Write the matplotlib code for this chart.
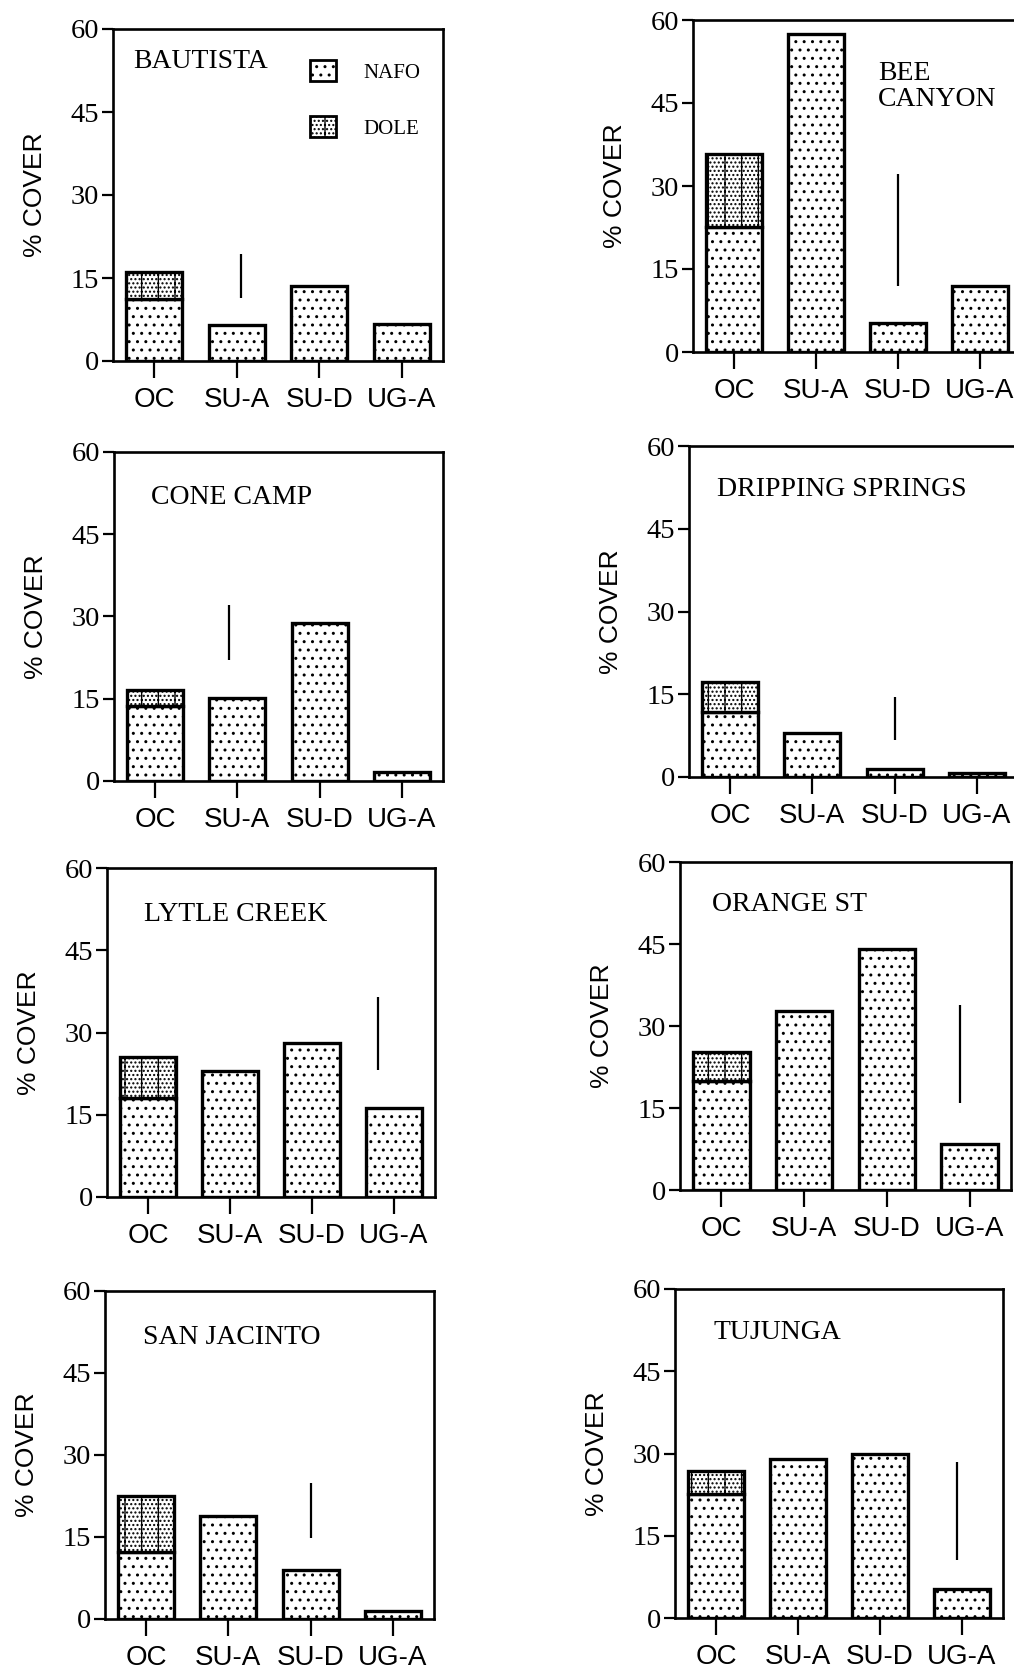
import matplotlib
matplotlib.use("Agg")
import matplotlib.pyplot as plt
from matplotlib.patches import Patch
from matplotlib import font_manager

# figure size in pixels
W, H = 1014, 1672

sites = ["BAUTISTA", "BEE\nCANYON", "CONE CAMP", "DRIPPING SPRINGS",
         "LYTLE CREEK", "ORANGE ST", "SAN JACINTO", "TUJUNGA"]
classes = ["OC", "SU-A", "SU-D", "UG-A"]
yticks = [0, 15, 30, 45, 60]

# NAFO cover for OC, SU-A, SU-D, UG-A at each site
nafo = [
    [11.2, 6.5, 13.6, 6.7],
    [22.6, 57.5, 5.2, 11.9],
    [13.7, 15.1, 28.8, 1.7],
    [11.8, 8.0, 1.4, 0.8],
    [18.0, 23.0, 28.0, 16.3],
    [19.9, 32.8, 44.0, 8.5],
    [12.2, 18.8, 9.0, 1.5],
    [22.6, 29.0, 29.9, 5.3],
]
# DOLE cover, only found in OC (stacked on top of NAFO)
dole_oc = [4.9, 13.2, 2.9, 5.4, 7.5, 5.4, 10.3, 4.2]

# vertical LSD bar in each panel
lsd_x = [1.05, 2.0, 0.9, 2.0, 2.8, 2.88, 2.0, 2.94]
lsd_low = [11.4, 12.0, 22.1, 6.7, 23.2, 15.9, 14.8, 10.6]
lsd_high = [19.3, 32.1, 32.1, 14.5, 36.4, 33.8, 24.9, 28.5]

# panel boxes in pixels: left, top, right, bottom
boxes = [
    (113, 29, 443, 361), (693, 20, 1021, 352),
    (114, 452, 443, 781), (689, 446, 1018, 777),
    (107, 868, 435, 1197), (680, 862, 1011, 1190),
    (105, 1291, 434, 1619), (675, 1289, 1003, 1618),
]
# title offset from top-left corner of panel, pixels
title_off = [(20, 20), (185, 41), (37, 33), (28, 31),
             (37, 34), (32, 30), (38, 34), (38, 31)]

serif = "Liberation Serif"
# narrow sans for tick labels if it is there
names = {f.name for f in font_manager.fontManager.ttflist}
if "Liberation Sans Narrow" in names:
    tick_sans, tick_size = "Liberation Sans Narrow", 23
else:
    tick_sans, tick_size = "Liberation Sans", 20
sans = "Liberation Sans"
plt.rcParams["hatch.linewidth"] = 1.0

nafo_hatch = ".."
dole_hatch = "|...."

fig = plt.figure(figsize=(W / 100, H / 100), dpi=100)

for i, site in enumerate(sites):
    l, t, r, b = boxes[i]
    ax = fig.add_axes([l / W, 1 - b / H, (r - l) / W, (b - t) / H])
    x = list(range(len(classes)))
    ax.bar(x, nafo[i], width=0.68, color="white", edgecolor="black",
           linewidth=2.4, hatch=nafo_hatch)
    ax.bar([0], [dole_oc[i]], bottom=[nafo[i][0]], width=0.68, color="white",
           edgecolor="black", linewidth=2.4, hatch=dole_hatch)
    ax.vlines(lsd_x[i], lsd_low[i], lsd_high[i], color="black", linewidth=1.6)

    ax.set_xlim(-0.5, 3.5)
    ax.set_ylim(0, 60)
    ax.set_xticks(x)
    ax.set_xticklabels(classes, fontfamily=tick_sans, fontsize=tick_size)
    ax.set_yticks(yticks)
    ax.set_yticklabels([str(v) for v in yticks], fontfamily=serif, fontsize=20.5)
    ax.tick_params(axis="y", direction="out", length=8, width=1.6, pad=2)
    ax.tick_params(axis="x", direction="out", length=12, width=1.6, pad=7)
    for s in ax.spines.values():
        s.set_linewidth(1.9)
    ax.set_ylabel("% COVER", fontfamily=sans, fontsize=19, labelpad=17)

    dx, dy = title_off[i]
    ax.text(dx / (r - l), 1 - dy / (b - t), site, transform=ax.transAxes,
            ha="left", va="top", fontfamily=serif, fontsize=20,
            linespacing=1.05)

    if i == 0:
        handles = [Patch(facecolor="white", edgecolor="black", linewidth=2,
                         hatch=nafo_hatch, label="NAFO"),
                   Patch(facecolor="white", edgecolor="black", linewidth=2,
                         hatch=dole_hatch, label="DOLE")]
        ax.legend(handles=handles, loc="upper left",
                  bbox_to_anchor=((300 - l) / (r - l), 1 - (50 - t) / (b - t)),
                  frameon=False, borderpad=0, handlelength=1.25,
                  handleheight=1.15, labelspacing=1.6, handletextpad=1.3,
                  prop={"family": serif, "size": 15})

fig.savefig("out.png", dpi=100)
